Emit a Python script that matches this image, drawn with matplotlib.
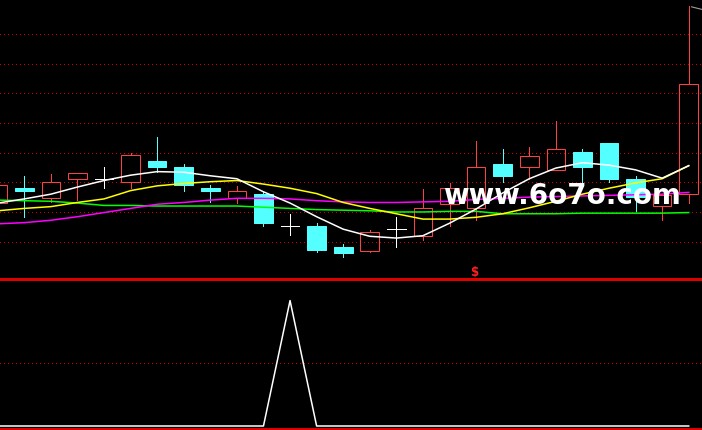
import matplotlib
matplotlib.use("Agg")
import matplotlib.pyplot as plt
from matplotlib.patches import Rectangle

# daily candles, oldest first (prices)
opens  = [10.65, 10.90, 10.74, 11.05, 11.05, 11.00, 11.36, 11.26, 10.90, 10.74,
          10.80, 10.26, 10.26, 9.91, 9.85, 10.21, 10.10, 10.63, 10.56, 11.31,
          11.25, 11.20, 11.51, 11.66, 11.06, 10.60, 10.80]
highs  = [10.95, 11.11, 11.14, 11.15, 11.26, 11.49, 11.76, 11.31, 10.95, 10.94,
          10.83, 10.47, 10.31, 9.96, 10.20, 10.42, 10.89, 10.99, 11.69, 11.56,
          11.59, 12.03, 11.56, 11.66, 11.10, 10.79, 13.97]
lows   = [10.60, 10.42, 10.66, 10.71, 10.91, 10.91, 11.17, 10.86, 10.66, 10.65,
          10.27, 10.12, 9.82, 9.74, 9.82, 9.91, 10.02, 10.27, 10.37, 11.01,
          11.06, 11.20, 10.97, 11.01, 10.52, 10.37, 10.65]
closes = [10.95, 10.85, 11.00, 11.15, 11.05, 11.46, 11.26, 10.96, 10.85, 10.85,
          10.32, 10.26, 9.86, 9.81, 10.16, 10.21, 10.57, 10.90, 11.25, 11.11,
          11.45, 11.56, 11.26, 11.06, 10.75, 10.79, 12.65]

# moving averages
ma_white   = [10.65, 10.72, 10.80, 10.92, 11.03, 11.12, 11.18, 11.17, 11.11, 11.06,
              10.84, 10.65, 10.42, 10.21, 10.09, 10.06, 10.10, 10.31, 10.55, 10.82,
              11.06, 11.24, 11.33, 11.29, 11.21, 11.07, 11.28]
ma_yellow  = [10.52, 10.56, 10.59, 10.66, 10.72, 10.86, 10.94, 10.98, 11.01, 11.03,
              10.97, 10.90, 10.81, 10.66, 10.56, 10.47, 10.38, 10.38, 10.41, 10.47,
              10.57, 10.68, 10.80, 10.90, 10.99, 11.06, 11.28]
ma_magenta = [10.30, 10.32, 10.36, 10.42, 10.49, 10.56, 10.63, 10.66, 10.70, 10.73,
              10.73, 10.72, 10.69, 10.67, 10.66, 10.66, 10.67, 10.68, 10.71, 10.73,
              10.75, 10.76, 10.77, 10.78, 10.79, 10.80, 10.83]
ma_green   = [10.70, 10.69, 10.68, 10.65, 10.61, 10.61, 10.60, 10.60, 10.60, 10.60,
              10.58, 10.56, 10.54, 10.53, 10.52, 10.50, 10.50, 10.51, 10.51, 10.47,
              10.47, 10.47, 10.48, 10.48, 10.48, 10.48, 10.49]

# lower panel signal
signal = [0, 0, 0, 0, 0, 0, 0, 0, 0, 0,
          0, 100, 0, 0, 0, 0, 0, 0, 0, 0,
          0, 0, 0, 0, 0, 0, 0]

price_grid = [10.0, 10.5, 11.0, 11.5, 12.0, 12.5, 13.0, 13.5]
signal_grid = [50]

UP = '#ff4040'
DOWN = '#54ffff'
GRID = '#d00000'
LINE = '#e00000'
W = 0.70
PX = 0.72  # one pixel at 100 dpi

fig = plt.figure(figsize=(7.02, 4.31), dpi=100, facecolor='black')
ax = fig.add_axes([0, 151 / 431, 1, 280 / 431])
ax2 = fig.add_axes([0, 1 / 431, 1, 150 / 431])

for a in (ax, ax2):
    a.set_facecolor('black')
    a.set_xticks([])
    a.set_yticks([])
    for s in a.spines.values():
        s.set_visible(False)
    a.set_xlim(0.087, 26.5)

ax.set_ylim(9.37, 14.09)
for lv in price_grid:
    ax.axhline(lv, color=GRID, lw=PX, ls=(0, (1, 3)), antialiased=False, zorder=1)

# candles
x = list(range(len(opens)))
for i in x:
    o, h, l, c = opens[i], highs[i], lows[i], closes[i]
    top, bot = max(o, c), min(o, c)
    if c > o:
        ax.add_patch(Rectangle((i - W / 2, bot), W, top - bot, fill=False,
                               edgecolor=UP, lw=PX, snap=True, zorder=3))
        ax.plot([i, i], [top, h], color=UP, lw=PX, snap=True, zorder=3)
        ax.plot([i, i], [l, bot], color=UP, lw=PX, snap=True, zorder=3)
    elif c < o:
        ax.plot([i, i], [l, h], color=DOWN, lw=PX, snap=True, zorder=3)
        ax.add_patch(Rectangle((i - W / 2, bot), W, top - bot, facecolor=DOWN,
                               edgecolor=DOWN, lw=PX, snap=True, zorder=3))
    else:
        ax.plot([i, i], [l, h], color='white', lw=PX, snap=True, zorder=3)
        ax.plot([i - W / 2, i + W / 2], [o, o], color='white', lw=PX,
                snap=True, zorder=3)

ax.plot(x, ma_green, color='#00ff00', lw=1.1, zorder=4)
ax.plot(x, ma_magenta, color='#ff00ff', lw=1.1, zorder=4)
ax.plot(x, ma_yellow, color='#ffff00', lw=1.1, zorder=4)
ax.plot(x, ma_white, color='white', lw=1.1, zorder=4)

# max price tag
ax.annotate('', xy=(x[-1], highs[-1]), xytext=(12, -3), textcoords='offset points',
            arrowprops=dict(arrowstyle='-', color='#a0a0a0', lw=0.8))

# watermark
ax.text(443 / 702, 76 / 280, 'www.6o7o.com', transform=ax.transAxes,
        color='white', fontsize=20, fontweight='bold', ha='left', va='baseline',
        zorder=6)
ax.text(474 / 702, 7 / 280, '$', transform=ax.transAxes, color='#ff2020',
        fontsize=8.5, fontweight='bold', ha='center', va='center', zorder=6)

# lower panel
ax2.set_ylim(-2.39, 117.2)
for side in ('top', 'bottom'):
    ax2.spines[side].set_visible(True)
    ax2.spines[side].set_color(LINE)
    ax2.spines[side].set_linewidth(0.8)
    ax2.spines[side].set_antialiased(False)
for lv in signal_grid:
    ax2.axhline(lv, color=GRID, lw=PX, ls=(0, (1, 3)), antialiased=False, zorder=1)
ax2.plot(x, signal, color='white', lw=1.1, zorder=3)

fig.savefig('out.png', dpi=100, facecolor='black')
